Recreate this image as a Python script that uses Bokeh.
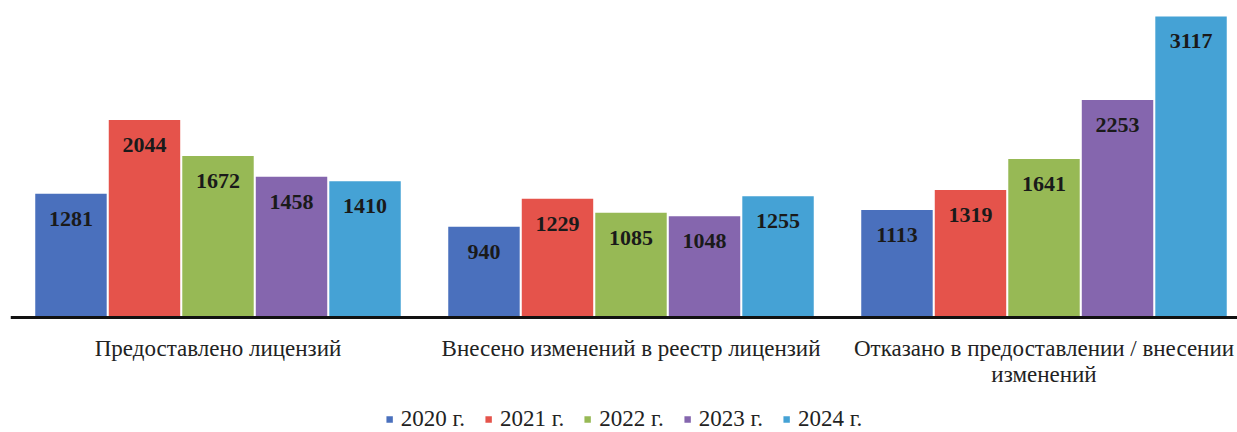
from bokeh.plotting import figure
from bokeh.models import ColumnDataSource, Range1d, Legend, LegendItem, Span
from bokeh.transform import dodge
from bokeh.core.properties import value
from bokeh.embed import file_html
from bokeh.resources import INLINE

categories = ["Предоставлено лицензий",
              "Внесено изменений в реестр лицензий",
              "Отказано в предоставлении / внесении\nизменений"]
years = ["2020 г.", "2021 г.", "2022 г.", "2023 г.", "2024 г."]
v2020 = [1281, 940, 1113]
v2021 = [2044, 1229, 1319]
v2022 = [1672, 1085, 1641]
v2023 = [1458, 1048, 2253]
v2024 = [1410, 1255, 3117]
series = [v2020, v2021, v2022, v2023, v2024]
colors = ["#4a70bd", "#e5534b", "#97b955", "#8566ae", "#45a2d5"]

SERIF = "Liberation Serif"

p = figure(frame_width=1227, frame_height=432, output_backend="svg", toolbar_location=None,
           x_range=Range1d(-0.50242, 2.46852), y_range=Range1d(-1190.5, 3282),
           x_axis_location=None, y_axis_location=None,
           min_border_left=10, min_border_right=0, min_border_top=0, min_border_bottom=0)
p.outline_line_color = None
p.xgrid.visible = False
p.ygrid.visible = False
p.background_fill_color = "white"

xs = list(range(len(categories)))
step = 0.178
bw = 0.173
items = []
for j, (yr, vals, col) in enumerate(zip(years, series, colors)):
    src = ColumnDataSource(dict(x=xs, top=vals, lbl=[str(v) for v in vals]))
    off = (j - 2) * step
    r = p.vbar(x=dodge("x", off), top="top", width=bw, bottom=0, source=src,
               fill_color=col, line_color=None)
    p.text(x=dodge("x", off), y="top", text="lbl", source=src,
           text_font=value(SERIF), text_font_style="bold", text_font_size="22px",
           text_color="#1a1a1a", text_align="center", text_baseline="middle",
           y_offset=25)
    items.append(LegendItem(label=yr, renderers=[r]))

# category axis: baseline and labels
p.add_layout(Span(location=0, dimension="width", line_width=3, line_color="#111111"))
cat_src = ColumnDataSource(dict(x=xs, y=[0] * len(xs), name=categories))
p.text(x="x", y="y", text="name", source=cat_src,
       text_font=value(SERIF), text_font_size="23px", text_color="#222222",
       text_align="center", text_baseline="top", text_line_height=1.05,
       y_offset=18)

legend = Legend(items=items, orientation="horizontal", location="bottom_center",
                label_text_font=SERIF, label_text_font_size="23px",
                label_text_color="#222222", glyph_width=8, glyph_height=8,
                label_standoff=8, spacing=19, padding=0, margin=0, label_height=22,
                border_line_color=None, background_fill_alpha=0)
p.add_layout(legend)

open("out.html", "w").write(file_html(p, INLINE))
